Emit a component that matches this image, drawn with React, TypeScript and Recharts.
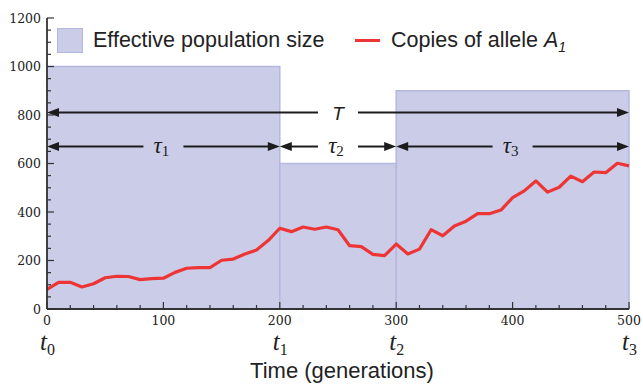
import React from "react"
import { ComposedChart, Line, XAxis, YAxis, ReferenceArea, ReferenceLine } from "recharts"

// generations sampled every 10
const generations = [
  0, 10, 20, 30, 40, 50, 60, 70, 80, 90, 100, 110, 120, 130, 140, 150, 160, 170, 180, 190, 200, 210, 220, 230, 240, 250,
  260, 270, 280, 290, 300, 310, 320, 330, 340, 350, 360, 370, 380, 390, 400, 410, 420, 430, 440, 450, 460, 470, 480, 490,
  500,
]
const alleleCopies = [
  81, 110, 110, 91, 104, 129, 135, 134, 121, 125, 127, 151, 168, 171, 171, 201, 206, 227, 243, 282, 333, 319, 338, 329,
  338, 327, 261, 257, 225, 220, 268, 227, 247, 327, 302, 342, 362, 393, 393, 408, 459, 487, 528, 482, 502, 548, 525, 565,
  562, 601, 590,
]

// population epochs
const epochStart = [0, 200, 300]
const epochEnd = [200, 300, 500]
const epochSize = [1000, 600, 900]
const epochNames = ["1", "2", "3"]

// boundaries t0..t3
const boundaryGens = [0, 200, 300, 500]
const boundaryNames = ["0", "1", "2", "3"]

const xMajor = [0, 100, 200, 300, 400, 500]
const yMajor = [0, 200, 400, 600, 800, 1000, 1200]
const xTicks = Array.from({ length: 26 }, (_, i) => i * 20)
const yTicks = Array.from({ length: 25 }, (_, i) => i * 50)

const totalLevel = 810
const epochLevel = 670

const FILL = "#cbcde8"
const EDGE = "#b5b8de"
const RED = "#ee3535"
const INK = "#1c1c1c"
const SERIF = '"DejaVu Serif", serif'
const MATH = '"Liberation Serif", "Times New Roman", serif'
const SANS = '"Liberation Sans", Arial, sans-serif'

const data = generations.map((g, i) => ({ gen: g, copies: alleleCopies[i] }))

function XTick(props: any) {
  const { x, y, payload } = props
  const major = xMajor.includes(payload.value)
  const b = boundaryGens.indexOf(payload.value)
  return (
    <g>
      <line x1={x} y1={y} x2={x} y2={y - (major ? 7 : 4)} stroke="#333" strokeWidth={1.2} />
      {major && (
        <text x={x} y={y + 16} textAnchor="middle" fontFamily={SERIF} fontSize={12.5} fill="#222">
          {payload.value}
        </text>
      )}
      {b >= 0 && (
        <text x={x - 7} y={y + 41} fontFamily={MATH} fontSize={25} fill="#222">
          <tspan fontStyle="italic">t</tspan>
          <tspan fontSize={16} dy={5}>
            {boundaryNames[b]}
          </tspan>
        </text>
      )}
    </g>
  )
}

function YTick(props: any) {
  const { x, y, payload } = props
  const major = yMajor.includes(payload.value)
  return (
    <g>
      <line x1={x} y1={y} x2={x + (major ? 7 : 4)} y2={y} stroke="#333" strokeWidth={1.2} />
      {major && (
        <text x={x - 6} y={y + 4.5} textAnchor="end" fontFamily={SERIF} fontSize={12.5} fill="#222">
          {payload.value}
        </text>
      )}
    </g>
  )
}

function Arrow(props: any) {
  const { x1, y1, x2, label, sub } = props
  const y = y1
  const mid = (x1 + x2) / 2
  const gap = 20
  const head = 12
  const hw = 4.5
  return (
    <g>
      <line x1={x1 + head - 1} y1={y} x2={mid - gap} y2={y} stroke={INK} strokeWidth={2} />
      <line x1={mid + gap} y1={y} x2={x2 - head + 1} y2={y} stroke={INK} strokeWidth={2} />
      <polygon points={`${x1},${y} ${x1 + head},${y - hw} ${x1 + head},${y + hw}`} fill={INK} />
      <polygon points={`${x2},${y} ${x2 - head},${y - hw} ${x2 - head},${y + hw}`} fill={INK} />
      {sub ? (
        <text x={mid - 2} y={y + 6} textAnchor="middle" fontFamily={MATH} fontSize={23} fill={INK}>
          <tspan fontStyle="italic">{label}</tspan>
          <tspan fontSize={15} dy={3}>
            {sub}
          </tspan>
        </text>
      ) : (
        <text x={mid} y={y + 7} textAnchor="middle" fontFamily={SANS} fontStyle="italic" fontSize={19} fill={INK}>
          {label}
        </text>
      )}
    </g>
  )
}

export default function App() {
  return (
    <div style={{ position: "absolute", left: 0, top: 0, width: 643, height: 384, background: "#fff" }}>
      <ComposedChart width={643} height={384} data={data} margin={{ top: 18, right: 14, bottom: 0, left: 0 }}>
        {epochStart.map((s, i) => (
          <ReferenceArea
            key={"ep" + i}
            x1={s}
            x2={epochEnd[i]}
            y1={0}
            y2={epochSize[i]}
            fill={FILL}
            fillOpacity={1}
            stroke={EDGE}
            strokeWidth={1.5}
          />
        ))}
        <XAxis
          dataKey="gen"
          type="number"
          domain={[0, 500]}
          ticks={xTicks}
          interval={0}
          height={75}
          tickSize={0}
          tickMargin={0}
          tick={<XTick />}
          axisLine={{ stroke: "#333", strokeWidth: 1.8 }}
          label={{
            value: "Time (generations)",
            position: "insideBottom",
            offset: 6,
            dx: 4,
            style: { fontFamily: SANS, fontSize: 22, fill: "#222" },
          }}
        />
        <YAxis
          type="number"
          domain={[0, 1200]}
          ticks={yTicks}
          interval={0}
          width={47}
          tickSize={0}
          tickMargin={0}
          tick={<YTick />}
          axisLine={{ stroke: "#333", strokeWidth: 1.8 }}
        />
        <Line
          dataKey="copies"
          stroke={RED}
          strokeWidth={3.2}
          strokeLinejoin="round"
          dot={false}
          isAnimationActive={false}
        />
        <ReferenceLine
          segment={[
            { x: 0, y: totalLevel },
            { x: 500, y: totalLevel },
          ]}
          shape={(p: any) => <Arrow {...p} label="T" />}
        />
        {epochStart.map((s, i) => (
          <ReferenceLine
            key={"tau" + i}
            segment={[
              { x: s, y: epochLevel },
              { x: epochEnd[i], y: epochLevel },
            ]}
            shape={(p: any) => <Arrow {...p} label="τ" sub={epochNames[i]} />}
          />
        ))}
      </ComposedChart>
      <div
        style={{
          position: "absolute",
          left: 57,
          top: 28,
          height: 25,
          display: "flex",
          alignItems: "center",
          fontFamily: SANS,
          fontSize: 21.5,
          color: "#222",
          whiteSpace: "nowrap",
        }}
      >
        <span style={{ width: 26, height: 25, background: FILL, border: `1px solid ${EDGE}`, boxSizing: "border-box" }} />
        <span style={{ marginLeft: 10 }}>Effective population size</span>
      </div>
      <div
        style={{
          position: "absolute",
          left: 355,
          top: 28,
          height: 25,
          display: "flex",
          alignItems: "center",
          fontFamily: SANS,
          fontSize: 21.5,
          color: "#222",
          whiteSpace: "nowrap",
        }}
      >
        <span style={{ width: 25, height: 3.5, background: RED }} />
        <span style={{ marginLeft: 11 }}>
          Copies of allele <i>A</i>
          <i style={{ fontSize: 14, position: "relative", top: 5 }}>1</i>
        </span>
      </div>
    </div>
  )
}
